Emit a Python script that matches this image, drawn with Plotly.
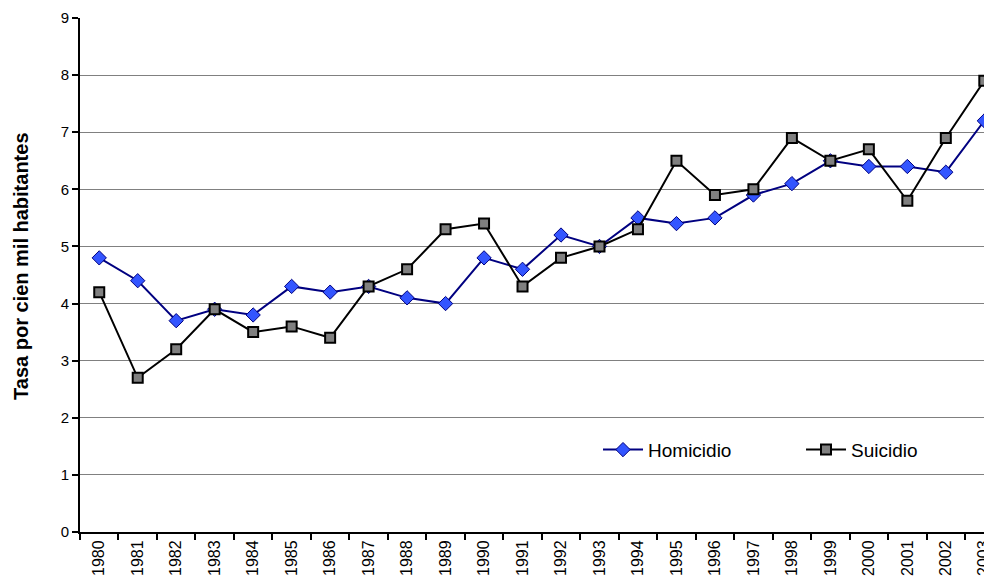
import plotly.graph_objects as go

years = [str(y) for y in range(1980, 2004)]
homicidio = [4.8, 4.4, 3.7, 3.9, 3.8, 4.3, 4.2, 4.3, 4.1, 4.0, 4.8, 4.6,
             5.2, 5.0, 5.5, 5.4, 5.5, 5.9, 6.1, 6.5, 6.4, 6.4, 6.3, 7.2]
suicidio = [4.2, 2.7, 3.2, 3.9, 3.5, 3.6, 3.4, 4.3, 4.6, 5.3, 5.4, 4.3,
            4.8, 5.0, 5.3, 6.5, 5.9, 6.0, 6.9, 6.5, 6.7, 5.8, 6.9, 7.9]

fig = go.Figure()
fig.add_trace(go.Scatter(
    x=years, y=homicidio, name="Homicidio", mode="lines+markers",
    line=dict(color="#000080", width=2),
    marker=dict(symbol="diamond", size=11, color="#3355FF",
                line=dict(color="#000080", width=1)),
))
fig.add_trace(go.Scatter(
    x=years, y=suicidio, name="Suicidio", mode="lines+markers",
    line=dict(color="#000000", width=2),
    marker=dict(symbol="square", size=10, color="#808080",
                line=dict(color="#000000", width=2)),
))

fig.add_annotation(
    text="<b>Tasa por cien mil habitantes</b>", textangle=-90,
    xref="paper", yref="paper", x=-0.0645, y=0.516,
    xanchor="center", yanchor="middle", showarrow=False,
    font=dict(size=20, color="#000000"),
)

fig.update_layout(
    width=984, height=576,
    margin=dict(l=72, r=0, t=10, b=52, autoexpand=False),
    paper_bgcolor="white", plot_bgcolor="white",
    font=dict(family="Liberation Sans, Arial, sans-serif", color="#000000", size=15),
    showlegend=True,
    legend=dict(orientation="h", x=0.568, y=0.16, xanchor="left", yanchor="middle",
                bgcolor="rgba(0,0,0,0)", font=dict(size=19), itemwidth=40,
                tracegroupgap=0, entrywidth=148),
    xaxis=dict(
        type="category", range=[-0.5, 23.2], automargin=False,
        showline=True, linecolor="#000000", linewidth=2,
        ticks="outside", tickson="boundaries", ticklen=6, tickwidth=2,
        tickcolor="#000000", tickangle=-90, tickfont=dict(size=16),
        showgrid=False, fixedrange=True,
    ),
    yaxis=dict(
        range=[0, 9], dtick=1, automargin=False,
        showline=True, linecolor="#000000", linewidth=2,
        ticks="outside", ticklen=6, tickwidth=2, tickcolor="#000000",
        showgrid=True, gridcolor="#808080", gridwidth=1,
        zeroline=False, tickfont=dict(size=15),
    ),
)

fig.write_html("out.html")
